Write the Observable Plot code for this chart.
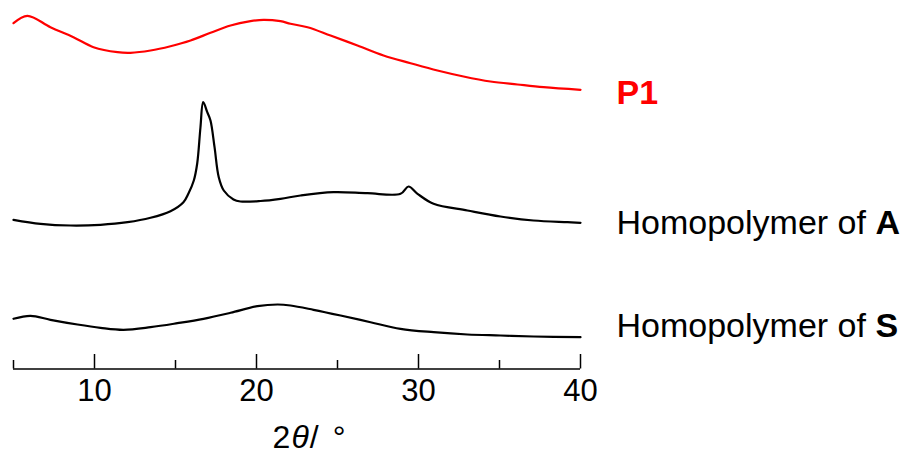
<!DOCTYPE html>
<html>
<head>
<meta charset="utf-8">
<script src="https://cdn.jsdelivr.net/npm/d3@7"></script>
<script src="https://cdn.jsdelivr.net/npm/@observablehq/plot@0.6"></script>
<style>
  html, body { margin: 0; padding: 0; background: #fff; }
</style>
</head>
<body>
<div id="chart"></div>
<script>
// ---- Data (2θ in degrees, stacked intensity in a.u.) ----
const seriesNames = ["P1", "Homopolymer of A", "Homopolymer of S"];

const angleP1 = [5.0, 5.86, 7.28, 8.70, 9.94, 11.42, 12.22, 13.46, 14.69, 15.93, 17.16, 18.40, 19.63, 20.43, 21.48, 22.10, 23.15, 24.57, 26.23, 27.84, 29.51, 31.17, 32.78, 34.44, 36.11, 37.72, 40.0];
const intP1   = [345.8, 353.2, 341.8, 331.8, 321.8, 316.8, 316.2, 318.5, 322.8, 328.5, 336.2, 343.5, 347.8, 349.2, 347.8, 345.2, 341.8, 333.5, 323.5, 313.5, 305.8, 298.5, 292.5, 287.5, 284.5, 281.8, 279.2];

const angleA = [5.0, 6.67, 8.52, 10.37, 12.04, 13.46, 14.69, 15.49, 15.80, 16.13, 16.34, 16.54, 16.71, 16.96, 17.16, 17.41, 17.67, 17.98, 18.58, 19.01, 20.25, 21.48, 22.72, 24.75, 26.85, 28.89, 29.38, 29.94, 30.93, 33.02, 35.06, 37.10, 39.20, 40.0];
const intA   = [149.2, 145.2, 143.5, 144.2, 146.8, 151.2, 157.8, 166.8, 175.5, 188.5, 205.5, 241.5, 266.8, 256.8, 248.5, 221.8, 191.8, 178.5, 169.5, 167.5, 168.0, 170.2, 173.5, 176.8, 175.8, 175.2, 182.5, 175.2, 165.2, 158.5, 152.5, 148.5, 146.8, 146.2];

const angleS = [5.0, 6.05, 7.28, 8.95, 10.37, 11.79, 13.46, 15.12, 16.73, 18.40, 20.06, 21.30, 22.10, 23.52, 25.19, 27.04, 28.89, 30.93, 33.02, 35.06, 37.10, 40.0];
const intS   = [50.2, 53.2, 49.2, 44.5, 41.2, 39.2, 41.8, 45.8, 50.2, 56.2, 62.8, 64.5, 63.5, 59.2, 53.5, 46.8, 40.2, 36.8, 34.5, 33.5, 32.5, 31.8];

const majorTicks = [10, 20, 30, 40];
const minorTicks = [5, 15, 25, 35];
const xLabel = "2θ/ °";

// ---- Build tables ----
const toRows = (name, xs, ys) => xs.map((x, i) => ({series: name, angle: x, intensity: ys[i]}));
const rowsP1 = toRows(seriesNames[0], angleP1, intP1);
const rowsA  = toRows(seriesNames[1], angleA, intA);
const rowsS  = toRows(seriesNames[2], angleS, intS);

const labelFont = 34;
const lineOpts = (color) => ({x: "angle", y: "intensity", stroke: color, strokeWidth: 2.2, curve: "catmull-rom"});
const labelOpts = (color, dy) => Plot.selectLast({
  x: "angle", y: "intensity", text: "series", textAnchor: "start",
  dx: 36, dy, fill: color, fontSize: labelFont, lineAnchor: "middle"
});

const chart = Plot.plot({
  width: 905,
  height: 455,
  marginLeft: 13,
  marginRight: 325,
  marginTop: 0,
  marginBottom: 86.5,
  style: {fontFamily: "'Liberation Sans', Arial, sans-serif", background: "white", color: "black"},
  x: {domain: [5, 40], axis: null},
  y: {domain: [0, 368.5], axis: null},
  marks: [
    Plot.ruleY([0], {strokeWidth: 1.5}),
    Plot.ruleX(majorTicks, {y1: 0, y2: 14.5, strokeWidth: 1.5}),
    Plot.ruleX(minorTicks, {y1: 0, y2: 8.5, strokeWidth: 1.5}),
    Plot.text(majorTicks, {x: d => d, frameAnchor: "bottom", dy: 22, fontSize: 31, lineAnchor: "middle"}),
    Plot.text([xLabel], {frameAnchor: "bottom", dx: 12, dy: 69, fontSize: 32, lineAnchor: "middle"}),
    Plot.line(rowsP1, lineOpts("#ff0000")),
    Plot.line(rowsA, lineOpts("#000000")),
    Plot.line(rowsS, lineOpts("#000000")),
    Plot.text(rowsP1, {...labelOpts("#ff0000", 3), fontWeight: "bold"}),
    Plot.text(rowsA, labelOpts("#000000", 0)),
    Plot.text(rowsS, labelOpts("#000000", -11))
  ]
});

// Rich text: italic θ in axis label, bold monomer letters in labels
const NS = "http://www.w3.org/2000/svg";
chart.querySelectorAll("text").forEach(t => {
  const s = t.textContent;
  if (s === xLabel) {
    t.textContent = "";
    const parts = [["2", null, 0], ["θ", "italic", 1], ["/", null, 1], ["°", null, 14]];
    parts.forEach(([txt, style, dx]) => {
      const ts = document.createElementNS(NS, "tspan");
      ts.textContent = txt;
      if (style) ts.setAttribute("font-style", style);
      if (dx) ts.setAttribute("dx", dx);
      t.appendChild(ts);
    });
  } else if (s.startsWith("Homopolymer of ")) {
    const idx = s.lastIndexOf(" ") + 1;
    t.textContent = "";
    const a = document.createElementNS(NS, "tspan");
    a.textContent = s.slice(0, idx);
    const b = document.createElementNS(NS, "tspan");
    b.textContent = s.slice(idx);
    b.setAttribute("font-weight", "bold");
    t.appendChild(a);
    t.appendChild(b);
  }
});

document.getElementById("chart").appendChild(chart);
</script>
</body>
</html>
